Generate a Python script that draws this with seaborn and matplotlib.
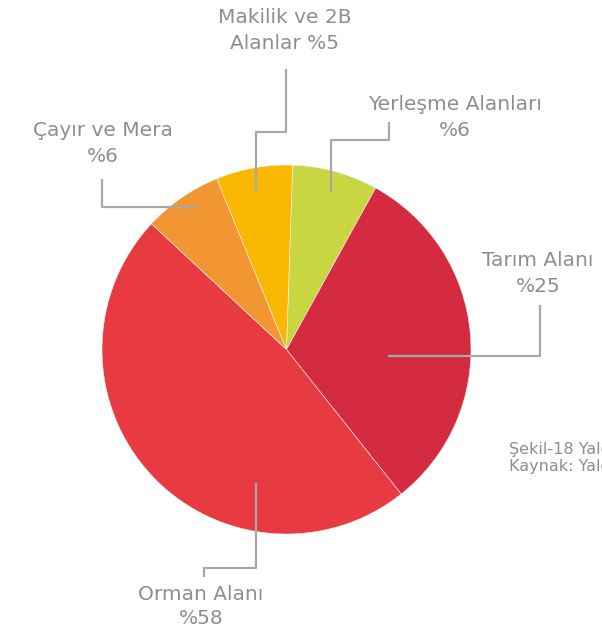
import matplotlib
matplotlib.use("Agg")
import matplotlib.pyplot as plt
import seaborn as sns

# slice data, clockwise from the top
names = ["Yerleşme Alanları", "Tarım Alanı", "Orman Alanı", "Çayır ve Mera", "Makilik ve 2B Alanlar"]
slice_sizes = [7.5, 31.3, 47.6, 6.9, 6.7]
label_pct = [6, 25, 58, 6, 5]
colors = ["#C8D641", "#D42B40", "#E83A41", "#F29533", "#F9B700"]

# label text lines (two lines each)
label_lines = [
    ["Yerleşme Alanları", "%6"],
    ["Tarım Alanı", "%25"],
    ["Orman Alanı", "%58"],
    ["Çayır ve Mera", "%6"],
    ["Makilik ve 2B", "Alanlar %5"],
]

sns.set_style("white")
plt.rcParams["font.family"] = ["DejaVu Sans"]

W, H = 602, 633
fig = plt.figure(figsize=(W / 100, H / 100), dpi=100)
ax = fig.add_axes([0, 0, 1, 1])

cx, cy, r = 286.5, 349.5, 184.5
ax.pie(slice_sizes, colors=colors, startangle=271.9, counterclock=True,
       center=(cx, cy), radius=r,
       wedgeprops=dict(edgecolor="#F4F4F4", linewidth=0.4))
ax.set_xlim(0, W)
ax.set_ylim(H, 0)
ax.set_aspect("auto")
ax.axis("off")

# layout of labels: text position (center x, line y's) and leader line path
layout = [
    dict(x=455, ys=[104, 130.7], path=[(331, 192), (331, 140), (389, 140), (389, 122)]),
    dict(x=538, ys=[260.7, 286.7], path=[(388, 356), (540, 356), (540, 305)]),
    dict(x=201, ys=[594, 618], path=[(255.7, 483), (255.7, 568), (204.3, 568), (204.3, 577)]),
    dict(x=102.5, ys=[130.7, 156], path=[(198, 206.7), (102.3, 206.7), (102.3, 179.3)]),
    dict(x=285, ys=[17.3, 43.3], path=[(255.5, 192), (255.5, 131.7), (285.7, 131.7), (285.7, 69)]),
]

text_color = "#8E8E8E"
line_color = "#A8A8A8"
for lines, lay in zip(label_lines, layout):
    xs = [p[0] for p in lay["path"]]
    ys = [p[1] for p in lay["path"]]
    ax.plot(xs, ys, color=line_color, lw=1.6, solid_capstyle="butt", zorder=5)
    for txt, y in zip(lines, lay["ys"]):
        ax.text(lay["x"], y, txt, ha="center", va="center", fontsize=14.5,
                color=text_color, zorder=6)

# caption, cut off at the right edge in the original
ax.text(509, 454.3, "Şekil-18 Yalova İli Arazi Kullanımı", ha="left", va="baseline",
        fontsize=11.5, color=text_color)
ax.text(509, 470.5, "Kaynak: Yalova Valiliği", ha="left", va="baseline",
        fontsize=11.5, color=text_color)

fig.savefig("out.png", dpi=100)
